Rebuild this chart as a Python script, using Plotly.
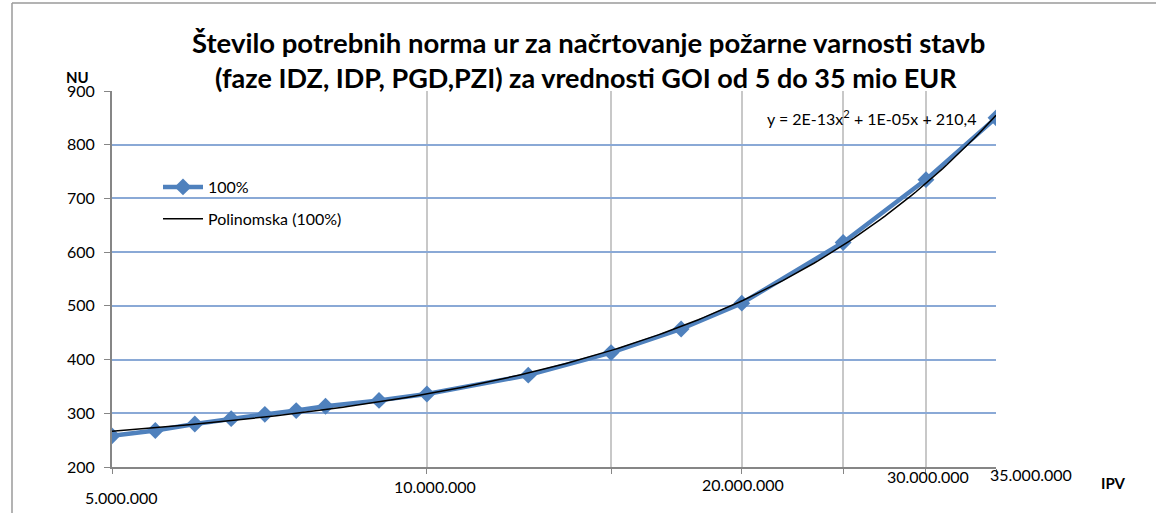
import numpy as np
import plotly.graph_objects as go

# ---- data ----
goi_values = [5.0e6, 5.5e6, 6.0e6, 6.5e6, 7.0e6, 7.5e6, 8.0e6, 9.0e6, 10.0e6,
              12.5e6, 15.0e6, 17.5e6, 20.0e6, 25.0e6, 30.0e6, 35.0e6]
nu_values = [258, 268, 280, 290, 298, 305, 313, 324, 336,
             371, 413, 457, 505, 618, 735, 850]
x_tick_vals = [5e6, 10e6, 15e6, 20e6, 25e6, 30e6, 35e6]
x_label_vals = [5e6, 10e6, 20e6, 30e6, 35e6]
x_label_text = ["5.000.000", "10.000.000", "20.000.000", "30.000.000", "35.000.000"]
y_tick_vals = [200, 300, 400, 500, 600, 700, 800, 900]
series_name = "100%"
trend_name = "Polinomska (100%)"
equation_text = "y = 2E-13x<sup>2</sup> + 1E-05x + 210,4"
title_line1 = "Število potrebnih norma ur za načrtovanje požarne varnosti stavb"
title_line2 = "(faze IDZ, IDP, PGD,PZI) za vrednosti GOI od 5 do 35 mio EUR"

# ---- layout geometry (pixels) ----
W, H = 1156, 513
L, R, T, B = 112, 996, 91, 467


def px(p):
    return (p - L) / (R - L)


def py(p):
    return (B - p) / (B - T)


# quadratic trendline fitted to the series
coef = np.polyfit(goi_values, nu_values, 2)
xt = np.geomspace(min(goi_values), max(goi_values), 200)
yt = np.polyval(coef, xt)

FONT = "Lato"
fig = go.Figure()
fig.add_trace(go.Scatter(
    x=goi_values, y=nu_values, mode="lines+markers", name=series_name,
    line=dict(color="#4F81BD", width=4.5),
    marker=dict(symbol="diamond", size=13, color="#4F81BD"),
    legendgroup="a",
))
fig.add_trace(go.Scatter(
    x=xt, y=yt, mode="lines", name=trend_name,
    line=dict(color="black", width=1.5),
    legendgroup="b",
))


def ann(text, cx, cy, size, bold=False):
    return dict(text=("<b>" + text + "</b>") if bold else text,
                x=px(cx), y=py(cy), xref="paper", yref="paper",
                xanchor="center", yanchor="middle", showarrow=False,
                font=dict(family=FONT, size=size, color="black"))


annotations = [
    ann(title_line1, 588, 42, 27.5, True),
    ann(title_line2, 586, 77, 27, True),
    ann(equation_text, 872, 117, 16),
    ann("NU", 77, 77, 15, True),
    ann("IPV", 1113, 483, 15, True),
]
label_pos = {5e6: (121, 497), 10e6: (435, 486), 20e6: (743, 484),
             30e6: (928, 476), 35e6: (1031, 474)}
for v, t in zip(x_label_vals, x_label_text):
    cx, cy = label_pos[v]
    annotations.append(ann(t, cx, cy, 16))

shapes = [
    dict(type="line", xref="paper", yref="paper", x0=px(12), x1=px(12), y0=py(3), y1=py(520),
         line=dict(color="#9A9A9A", width=1.5)),
    dict(type="line", xref="paper", yref="paper", x0=px(12), x1=px(1160), y0=py(3), y1=py(3),
         line=dict(color="#9A9A9A", width=1.5)),
]

fig.update_layout(
    width=W, height=H,
    margin=dict(l=L, r=W - R, t=T, b=H - B),
    paper_bgcolor="white", plot_bgcolor="white",
    font=dict(family=FONT, size=16, color="black"),
    showlegend=True,
    legend=dict(x=px(158), y=py(170), xanchor="left", yanchor="top",
                bgcolor="rgba(0,0,0,0)", font=dict(family=FONT, size=16, color="black"),
                traceorder="grouped", tracegroupgap=8, itemwidth=40),
    annotations=annotations,
    shapes=shapes,
)
fig.update_xaxes(
    type="log", range=[np.log10(5e6), np.log10(3.5e7)],
    tickvals=x_tick_vals, showticklabels=False,
    ticks="outside", ticklen=5, tickcolor="#868686",
    showgrid=True, gridcolor="#C8C8C8", gridwidth=1.5,
    showline=True, linecolor="#868686", linewidth=2,
    zeroline=False,
)
fig.update_yaxes(
    range=[200, 900], tickvals=y_tick_vals,
    ticks="outside", ticklen=6, tickcolor="#868686",
    showgrid=True, gridcolor="#8AA9D6", gridwidth=1.5,
    showline=True, linecolor="#868686", linewidth=2,
    zeroline=False, ticklabelstandoff=6,
    tickfont=dict(family=FONT, size=16, color="black"),
)

fig.write_html("out.html", config={"displayModeBar": False},
               post_script="document.body.style.margin='0';")
